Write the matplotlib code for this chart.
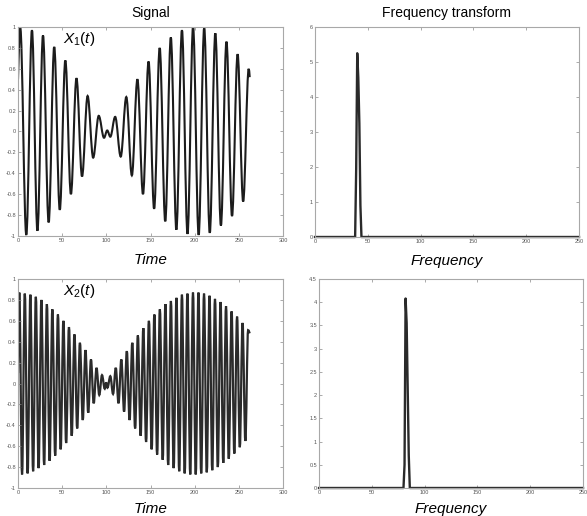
import numpy as np
import matplotlib
matplotlib.use("Agg")
import matplotlib.pyplot as plt
from matplotlib.path import Path
from matplotlib.patches import PathPatch

plt.rcParams['font.family'] = ['Liberation Sans', 'DejaVu Sans']
plt.rcParams['mathtext.fontset'] = 'custom'
plt.rcParams['mathtext.rm'] = 'Liberation Sans'
plt.rcParams['mathtext.it'] = 'Liberation Sans:italic'

# ---- X1(t): extrema (time, value) ----
x1_times = [0.0, 2.5, 9.4, 15.8, 22.0, 28.3, 34.7, 41.0, 47.3, 53.6, 59.9, 66.2, 72.5,
            78.8, 85.1, 91.4, 97.4, 101.0, 104.5, 110.0, 116.3, 122.6, 128.9, 135.2,
            141.5, 147.8, 154.1, 160.4, 166.7, 173.0, 179.3, 185.6, 191.9, 198.2,
            204.5, 210.8, 217.1, 223.4, 229.7, 236.0, 242.3, 248.6, 254.9, 261.2, 262.3]
x1_values = [0.50, 1.0, -0.99, 0.97, -0.95, 0.92, -0.87, 0.81, -0.75, 0.68, -0.60, 0.51, -0.43,
             0.34, -0.25, 0.15, -0.06, 0.01, -0.05, 0.14, -0.24, 0.33, -0.42, 0.50,
             -0.60, 0.67, -0.74, 0.80, -0.86, 0.90, -0.94, 0.97, -0.98, 1.0,
             -0.99, 0.99, -0.97, 0.94, -0.90, 0.86, -0.81, 0.74, -0.67, 0.60, 0.52]

# ---- X2(t): extrema (time, value) ----
x2_times = [0.0, 1.5, 4.6, 7.7, 10.9, 14.0, 17.1, 20.2, 23.3, 26.5, 29.6, 32.7, 35.8, 38.9,
            42.1, 45.2, 48.3, 51.4, 54.5, 57.7, 60.8, 63.9, 67.0, 70.1, 73.3, 76.4,
            79.5, 82.6, 85.7, 88.9, 92.0, 95.1, 98.2, 99.8, 101.3, 104.5, 107.6, 110.7,
            113.8, 117.0, 120.1, 123.2, 126.3, 129.4, 132.6, 135.7, 138.8, 141.9, 145.0,
            148.2, 151.3, 154.4, 157.5, 160.6, 163.8, 166.9, 170.0, 173.1, 176.2, 179.4,
            182.5, 185.6, 188.7, 191.8, 195.0, 198.1, 201.2, 204.3, 207.4, 210.6, 213.7,
            216.8, 219.9, 223.0, 226.2, 229.3, 232.4, 235.5, 238.6, 241.8, 244.9, 248.0,
            251.1, 254.2, 257.4, 260.5, 262.3]
x2_values = [0.10, 0.87, -0.87, 0.86, -0.86, 0.85, -0.84, 0.83, -0.81, 0.80, -0.78, 0.76, -0.74, 0.71,
             -0.69, 0.66, -0.63, 0.60, -0.57, 0.54, -0.50, 0.47, -0.43, 0.39, -0.35, 0.32,
             -0.28, 0.23, -0.19, 0.15, -0.11, 0.08, -0.05, 0.01, -0.04, 0.07, -0.10, 0.15,
             -0.19, 0.23, -0.27, 0.31, -0.35, 0.39, -0.43, 0.46, -0.50, 0.53, -0.56,
             0.60, -0.63, 0.66, -0.68, 0.71, -0.73, 0.76, -0.78, 0.79, -0.81, 0.82,
             -0.84, 0.85, -0.86, 0.86, -0.87, 0.87, -0.87, 0.87, -0.86, 0.86, -0.85,
             0.84, -0.83, 0.81, -0.80, 0.78, -0.76, 0.74, -0.72, 0.69, -0.67, 0.64,
             -0.61, 0.58, -0.55, 0.51, 0.48]

# ---- Frequency transforms ----
freq_max = 250
f1_bins = [38, 39, 40, 41, 42, 43]
f1_mags = [0.0, 1.95, 5.25, 4.55, 3.25, 0.9]
f2_bins = [80, 81, 82, 83, 84, 85]
f2_mags = [0.0, 0.5, 4.08, 3.55, 2.05, 0.7]

signal_yticks = [-1, -0.8, -0.6, -0.4, -0.2, 0, 0.2, 0.4, 0.6, 0.8, 1]
signal_ylabels = ['-1', '-0.8', '-0.6', '-0.4', '-0.2', '0', '0.2', '0.4', '0.6', '0.8', '1']
time_ticks = [0, 50, 100, 150, 200, 250, 300]
freq_ticks = [0, 50, 100, 150, 200, 250]
spec1_yticks = [0, 1, 2, 3, 4, 5, 6]
spec2_yticks = [0, 0.5, 1, 1.5, 2, 2.5, 3, 3.5, 4, 4.5]
spec2_ylabels = ['0', '0.5', '1', '1.5', '2', '2.5', '3', '3.5', '4', '4.5']


def wave_path(ts, vs):
    verts = [(ts[0], vs[0])]
    codes = [Path.MOVETO]
    n = len(ts)
    for i in range(n - 1):
        t0, v0, t1, v1 = ts[i], vs[i], ts[i + 1], vs[i + 1]
        d = (t1 - t0) * 0.364
        c1 = (t0 + d, v0)
        c2 = (t1 - d, v1)
        if i == 0:
            c1 = (t0 + d, v0 + (v1 - v0) * 0.5)
        if i == n - 2:
            c2 = (t1 - d, v1 + (v0 - v1) * 0.5)
        verts += [c1, c2, (t1, v1)]
        codes += [Path.CURVE4] * 3
    return Path(verts, codes)


def style(ax):
    for s in ax.spines.values():
        s.set_color('#a8a8a8')
        s.set_linewidth(0.8)
    ax.tick_params(direction='in', length=2.5, width=0.5, color='#888888',
                   labelsize=4, labelcolor='#555555', pad=1.5,
                   top=True, right=True)


fig = plt.figure(figsize=(5.87, 5.16), dpi=100)
W, H = 587, 516


def add_ax(l, r, t, b):
    return fig.add_axes([l / W, 1 - b / H, (r - l) / W, (b - t) / H])


ax1 = add_ax(18, 283, 27, 236)
ax2 = add_ax(315, 579, 27, 237)
ax3 = add_ax(18, 283, 279, 488)
ax4 = add_ax(319, 583, 279, 488)

# Signal 1
ax1.add_patch(PathPatch(wave_path(x1_times, x1_values), fill=False,
                        edgecolor='#1c1c1c', lw=1.5))
ax1.set_xlim(0, 300)
ax1.set_ylim(-1, 1)
ax1.set_xticks(time_ticks)
ax1.set_yticks(signal_yticks)
ax1.set_yticklabels(signal_ylabels)
ax1.text(51, 0.885, r'$X_1(t)$', fontsize=11, va='center', ha='left')
ax1.set_title('Signal', fontsize=10, pad=7)
ax1.set_xlabel('Time', fontsize=11, style='italic', labelpad=7)

# Spectrum 1
f_axis = np.arange(0, freq_max + 1)
m1 = np.zeros_like(f_axis, dtype=float)
m1[f1_bins] = f1_mags
ax2.plot(f_axis, m1, color='#2a2a2a', lw=1.7, clip_on=False)
ax2.set_xlim(0, 250)
ax2.set_ylim(0, 6)
ax2.set_xticks(freq_ticks)
ax2.set_yticks(spec1_yticks)
ax2.set_title('Frequency transform', fontsize=10, pad=7)
ax2.set_xlabel('Frequency', fontsize=11, style='italic', labelpad=7)

# Signal 2
ax3.add_patch(PathPatch(wave_path(x2_times, x2_values), fill=False,
                        edgecolor='#2b2b2b', lw=1.6))
ax3.set_xlim(0, 300)
ax3.set_ylim(-1, 1)
ax3.set_xticks(time_ticks)
ax3.set_yticks(signal_yticks)
ax3.set_yticklabels(signal_ylabels)
ax3.text(51, 0.885, r'$X_2(t)$', fontsize=11, va='center', ha='left')
ax3.set_xlabel('Time', fontsize=11, style='italic', labelpad=5)

# Spectrum 2
m2 = np.zeros_like(f_axis, dtype=float)
m2[f2_bins] = f2_mags
ax4.plot(f_axis, m2, color='#2a2a2a', lw=1.7, clip_on=False)
ax4.set_xlim(0, 250)
ax4.set_ylim(0, 4.5)
ax4.set_xticks(freq_ticks)
ax4.set_yticks(spec2_yticks)
ax4.set_yticklabels(spec2_ylabels)
ax4.set_xlabel('Frequency', fontsize=11, style='italic', labelpad=5)

for ax in (ax1, ax2, ax3, ax4):
    style(ax)

fig.savefig('out.png', dpi=100)
